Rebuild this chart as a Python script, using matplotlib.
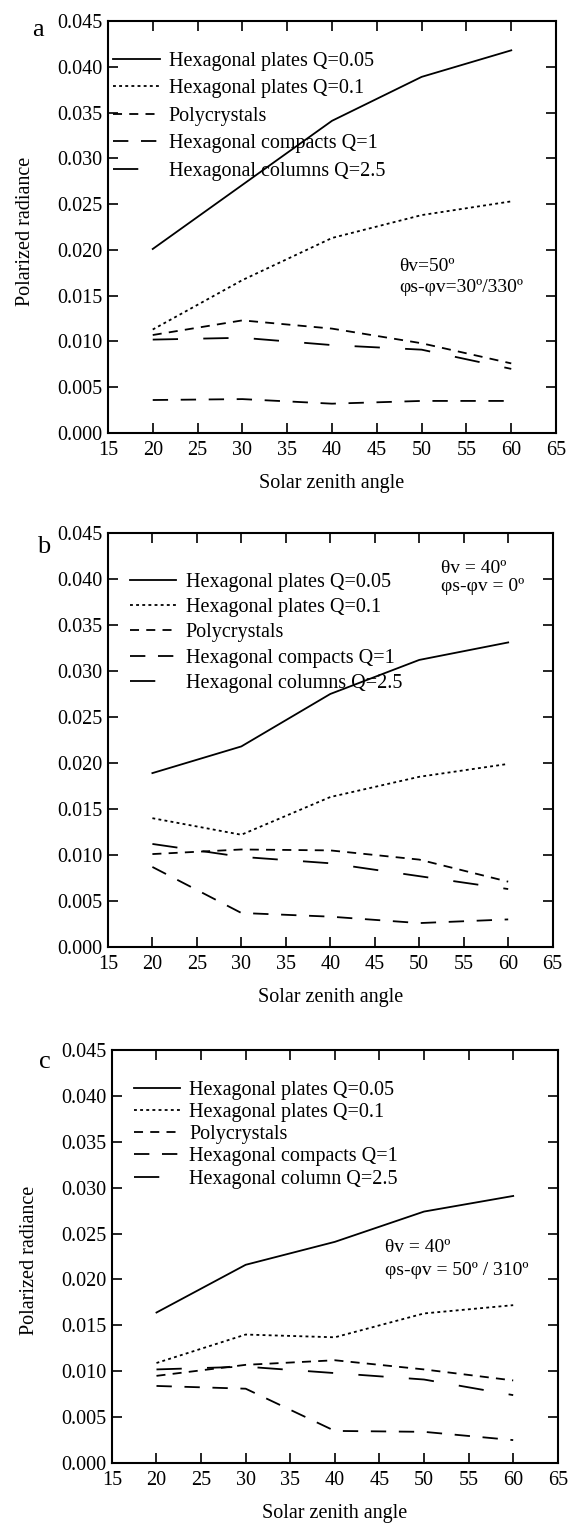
import numpy as np
import matplotlib
matplotlib.use("Agg")
import matplotlib.pyplot as plt
from matplotlib.ticker import FormatStrFormatter

plt.rcParams['font.family'] = ['Liberation Serif', 'DejaVu Serif']
plt.rcParams['font.size'] = 14.5

angles = [20, 30, 40, 50, 60]
names = ["Hexagonal plates Q=0.05", "Hexagonal plates Q=0.1", "Polycrystals",
         "Hexagonal compacts Q=1", "Hexagonal columns Q=2.5"]

# panel a: thetav=50, phis-phiv=30/330
a_plates005 = [0.0201, 0.0271, 0.0341, 0.0389, 0.0418]
a_plates01 = [0.0113, 0.0167, 0.0213, 0.0238, 0.0253]
a_poly = [0.0107, 0.0123, 0.0114, 0.0098, 0.0076]
a_compacts = [0.0036, 0.0037, 0.0032, 0.0035, 0.0035]
a_columns = [0.0102, 0.0104, 0.0096, 0.0091, 0.0070]

# panel b: thetav=40, phis-phiv=0
b_plates005 = [0.0189, 0.0218, 0.0275, 0.0312, 0.0331]
b_plates01 = [0.0140, 0.0122, 0.0163, 0.0185, 0.0199]
b_poly = [0.0101, 0.0106, 0.0105, 0.0095, 0.0071]
b_compacts = [0.0087, 0.0037, 0.0033, 0.0026, 0.0030]
b_columns = [0.0112, 0.0098, 0.0091, 0.0077, 0.0063]

# panel c: thetav=40, phis-phiv=50/310
c_plates005 = [0.0164, 0.0216, 0.0241, 0.0274, 0.0291]
c_plates01 = [0.0109, 0.0140, 0.0137, 0.0163, 0.0172]
c_poly = [0.0095, 0.0107, 0.0112, 0.0102, 0.0090]
c_compacts = [0.0084, 0.0081, 0.0035, 0.0034, 0.0025]
c_columns = [0.0102, 0.0105, 0.0098, 0.0091, 0.0074]

lw = 1.3
styles = [None, (1.6, 1.8), (5, 4), (8.5, 7), (14, 14)]

fig = plt.figure(figsize=(5.68, 15.24), dpi=100)

panels = [
    dict(rect=[0.190, 0.7159, 0.789, 0.2703], letter='a', lpos=(0.067, 0.980),
         data=[a_plates005, a_plates01, a_poly, a_compacts, a_columns],
         names=names, leg=(0.012, 0.926), lsp=0.42,
         note=["θv=50º", "φs-φv=30º/330º"], npos=(0.65, 0.403, 0.354), ylabel=True),
    dict(rect=[0.190, 0.3786, 0.783, 0.2717], letter='b', lpos=(0.076, 0.641),
         data=[b_plates005, b_plates01, b_poly, b_compacts, b_columns],
         names=names, leg=(0.05, 0.903), lsp=0.3,
         note=["θv = 40º", "φs-φv = 0º"], npos=(0.748, 0.915, 0.870), ylabel=False),
    dict(rect=[0.197, 0.0400, 0.785, 0.2710], letter='c', lpos=(0.079, 0.303),
         data=[c_plates005, c_plates01, c_poly, c_compacts, c_columns],
         names=names[:4] + ["Hexagonal column Q=2.5"], leg=(0.049, 0.925), lsp=0.15,
         note=["θv = 40º", "φs-φv = 50º / 310º"], npos=(0.612, 0.523, 0.467), ylabel=True),
]

for p in panels:
    ax = fig.add_axes(p['rect'])
    for series, st, nm in zip(p['data'], styles, p['names']):
        line, = ax.plot(angles, series, color='black', lw=lw, label=nm)
        if st is not None:
            line.set_dashes(st)
    ax.set_xlim(15, 65)
    ax.set_ylim(0, 0.045)
    ax.set_xticks(np.arange(15, 66, 5))
    ax.set_yticks(np.arange(0, 0.0451, 0.005))
    ax.yaxis.set_major_formatter(FormatStrFormatter('%.3f'))
    ax.tick_params(direction='in', length=7, width=1.2, top=True, right=True)
    ax.tick_params(axis='x', pad=6)
    ax.tick_params(axis='y', pad=4)
    for s in ax.spines.values():
        s.set_linewidth(1.5)
    ax.set_xlabel("Solar zenith angle", va='center')
    ax.xaxis.set_label_coords(0.5, -0.122)
    if p['ylabel']:
        ax.set_ylabel("Polarized radiance", va='center')
        ax.yaxis.set_label_coords(-0.185, 0.49)
    ax.legend(loc='upper left', bbox_to_anchor=p['leg'], frameon=False,
              borderpad=0, borderaxespad=0, handlelength=2.3, handletextpad=0.45,
              labelspacing=p['lsp'])
    x0, y1, y2 = p['npos']
    ax.text(x0, y1, p['note'][0], transform=ax.transAxes, fontsize=14, va='center')
    ax.text(x0, y2, p['note'][1], transform=ax.transAxes, fontsize=14, va='center')
    fig.text(p['lpos'][0], p['lpos'][1], p['letter'], fontsize=19, ha='center', va='center')

fig.savefig("out.png", dpi=100)
